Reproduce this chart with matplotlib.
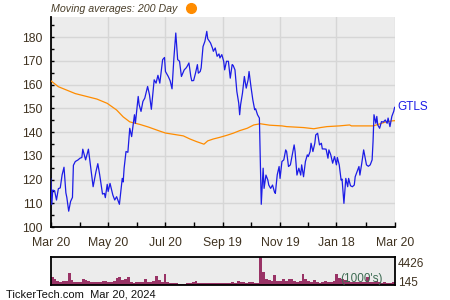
import pandas as pd
import matplotlib
matplotlib.use("Agg")
import matplotlib.pyplot as plt
import matplotlib.dates as mdates

start = pd.Timestamp("2023-03-20")
end = pd.Timestamp("2024-03-20")

# GTLS closing price, days counted from Mar 20, 2023
price_days = [0, 1, 2, 4, 6, 8, 10, 12, 14, 16, 17, 19, 21, 23, 24, 26, 29, 31, 33, 34,
              37, 40, 43, 45, 48, 50, 52, 55, 57, 58, 60, 61, 63, 66, 68, 70, 73, 76, 77, 78,
              80, 82, 84, 86, 89, 90, 93, 94, 96, 98, 100, 103, 105, 107, 110, 112, 114, 116, 119, 121,
              122, 125, 127, 129, 131, 133, 135, 137, 139, 141, 142, 144, 145, 147, 149, 150, 152, 154, 156, 157,
              159, 160, 162, 164, 166, 167, 170, 172, 173, 175, 177, 179, 180, 182, 184, 185, 187, 189, 191, 193,
              194, 196, 198, 200, 201, 202, 204, 206, 208, 210, 211, 213, 215, 217, 218, 220, 222, 224, 226, 227,
              229, 231, 232, 234, 236, 238, 239, 241, 243, 244, 246, 248, 250, 251, 253, 255, 257, 259, 260, 262,
              264, 266, 267, 269, 271, 273, 274, 276, 277, 279, 281, 282, 284, 286, 288, 289, 291, 293, 295, 296,
              298, 300, 302, 304, 305, 307, 309, 310, 312, 314, 316, 317, 319, 321, 323, 324, 326, 328, 329, 331,
              333, 334, 336, 338, 340, 342, 343, 344, 346, 347, 348, 350, 352, 354, 356, 358, 359, 361, 363, 365,
              366]
price = [120.3, 109.5, 115.6, 115.3, 111.4, 116.2, 116.5, 122.0, 125.2, 114.4, 112.5, 106.7, 110.8, 112.5, 126.0, 127.6, 128.3, 129.0, 129.3, 132.8,
         128.3, 132.8, 123.3, 117.0, 123.3, 126.7, 122.0, 113.9, 114.2, 112.4, 118.0, 115.0, 118.4, 113.5, 111.4, 112.8, 109.6, 120.5, 119.0, 124.8,
         131.8, 131.5, 141.6, 138.1, 147.3, 143.7, 155.0, 151.5, 148.7, 152.9, 154.3, 159.2, 155.7, 149.6, 162.0, 160.6, 163.9, 160.6, 170.5, 171.4,
         165.5, 163.4, 161.6, 158.2, 171.2, 181.7, 170.5, 169.8, 163.4, 165.3, 166.2, 167.0, 167.6, 169.1, 163.4, 161.6, 161.7, 164.8, 168.4, 164.8,
         165.5, 167.0, 176.0, 178.2, 182.4, 179.3, 177.5, 175.4, 174.0, 175.4, 171.9, 172.9, 171.2, 172.6, 169.8, 166.2, 169.8, 169.8, 162.7, 168.4,
         168.1, 166.2, 157.1, 152.2, 147.3, 151.5, 156.4, 163.4, 158.5, 162.0, 165.5, 159.2, 153.6, 149.4, 149.8, 147.3, 145.9, 109.6, 124.8, 116.3,
         121.9, 119.8, 117.7, 116.3, 117.7, 114.9, 114.2, 122.0, 125.5, 120.5, 127.6, 128.3, 132.5, 131.8, 125.5, 126.2, 130.4, 134.6, 131.8, 121.9,
         124.8, 121.9, 126.2, 121.2, 127.6, 130.4, 129.7, 131.8, 135.3, 131.8, 135.3, 138.8, 139.5, 134.6, 135.3, 132.9, 132.9, 132.8, 129.0, 132.5,
         130.4, 126.9, 129.7, 126.2, 129.3, 126.2, 119.8, 120.2, 110.0, 120.5, 117.0, 120.5, 117.4, 117.0, 117.7, 121.2, 123.3, 125.5, 121.9, 126.9,
         132.5, 130.4, 126.2, 125.6, 126.2, 128.3, 136.0, 147.3, 143.7, 146.6, 143.0, 141.6, 144.4, 144.2, 145.1, 143.7, 145.9, 142.3, 146.6, 148.7,
         150.4]

# 200 day moving average
ma_days = [0, 8, 26, 35, 49, 60, 70, 77, 84, 95, 104, 116, 122, 141, 148, 155, 163, 167, 173, 180,
           187, 194, 201, 209, 216, 223, 233, 246, 251, 269, 280, 287, 294, 307, 318, 320, 343, 349, 356, 363, 366]
ma200 = [161.6, 159.1, 156.2, 155.3, 153.9, 152.1, 149.3, 146.4, 144.3, 143.2, 142.1, 140.4, 139.6, 138.4, 137.1, 136.0, 134.9, 136.3, 137.1, 137.8,
         138.6, 139.5, 140.6, 141.6, 143.0, 143.5, 142.9, 142.6, 142.3, 141.9, 141.4, 141.9, 142.3, 142.6, 143.0, 142.6, 142.6, 143.3, 144.2, 144.7, 144.8]

# volume in thousands, one value per 3 days
volume = [1400, 1000, 800, 600, 750, 700, 2000, 900, 600, 550, 600, 1050, 900, 750, 600, 550, 650, 600, 750, 750,
          600, 650, 750, 1150, 1300, 900, 1000, 1400, 550, 500, 600, 600, 650, 1000, 600, 600, 750, 1500, 900, 600,
          1800, 550, 450, 400, 400, 350, 350, 350, 400, 400, 550, 750, 450, 450, 500, 400, 450, 500, 450, 400,
          400, 400, 450, 500, 550, 500, 800, 600, 550, 500, 600, 550, 500, 500, 4426, 2100, 1100, 900, 700, 1600,
          800, 800, 1100, 700, 1000, 1100, 700, 650, 700, 1750, 1100, 700, 650, 900, 550, 500, 600, 800, 650, 650,
          700, 1850, 1200, 1000, 900, 800, 600, 550, 550, 600, 650, 600, 1300, 550, 600, 700, 650, 500, 550, 500,
          500, 550, 500]

tick_dates = ["2023-03-20", "2023-05-20", "2023-07-20", "2023-09-19", "2023-11-19", "2024-01-18", "2024-03-20"]

plt.rcParams['font.family'] = ['Liberation Sans', 'DejaVu Sans']
txt = '#3f3220'

px = start + pd.to_timedelta(price_days, unit='D')
mx = start + pd.to_timedelta(ma_days, unit='D')
vx = pd.date_range(start, periods=len(volume), freq='3D')
ticks = pd.to_datetime(tick_dates)
minor = [ticks[i] + (ticks[i + 1] - ticks[i]) / 2 for i in range(len(ticks) - 1)]

fig = plt.figure(figsize=(4.5, 3), dpi=100)
ax = fig.add_axes([0.113, 0.243, 0.764, 0.7])
axv = fig.add_axes([0.113, 0.05, 0.764, 0.094])

ax.set_facecolor('#ececec')
ax.plot(mx, ma200, color='#ff8c00', lw=0.9, zorder=3)
ax.plot(px, price, color='#1c1ce6', lw=0.9, zorder=4)
ax.set_xlim(start, end)
ax.set_ylim(100, 188.4)
ax.set_yticks(range(100, 181, 10))
ax.set_yticks(range(105, 186, 10), minor=True)
ax.set_xticks(ticks)
ax.set_xticks(minor, minor=True)
ax.xaxis.set_major_formatter(mdates.DateFormatter('%b %d'))
ax.grid(True, which='major', color='#d6d6d6', lw=1.0, zorder=0)
ax.set_axisbelow(True)
for s in ['top', 'right']:
    ax.spines[s].set_visible(False)
for s in ['left', 'bottom']:
    ax.spines[s].set_linewidth(1.3)
ax.tick_params(axis='y', which='both', direction='in', length=2.5, width=1, pad=6, labelsize=8.8, labelcolor=txt)
ax.tick_params(axis='x', which='both', direction='in', length=3.5, width=1, pad=7, labelsize=8.8, labelcolor=txt)

ax.annotate('GTLS', xy=(px[-1], price[-1]), xytext=(2, 0), textcoords='offset points',
            va='center', ha='left', color='#1c1ce6', fontsize=8.5, annotation_clip=False)

fig.text(0.113, 0.97, 'Moving averages: 200 Day', style='italic', fontsize=7.7, color='#4a3f2a', va='center')
ax.plot([0.424], [0.973], 'o', color='#ff8c00', markersize=7, transform=fig.transFigure, clip_on=False)

axv.set_facecolor('#ececec')
axv.bar(vx, volume, width=3, color='#993366', align='edge')
axv.set_xlim(start, end)
axv.set_ylim(145, 4426)
axv.set_xticks([])
axv.set_yticks([])
for s in axv.spines.values():
    s.set_linewidth(1.3)
axv.text(0.965, 0.2, "(1000's)", transform=axv.transAxes, ha='right', va='center', fontsize=8.5, color='#3d6b52')
fig.text(0.884, 0.12, '4426', fontsize=8.5, color=txt, va='center')
fig.text(0.884, 0.058, '145', fontsize=8.5, color=txt, va='center')
fig.text(0.013, 0.018, 'TickerTech.com  Mar 20, 2024', fontsize=8, color='#111111', va='center')

fig.savefig('out.png', dpi=100)
